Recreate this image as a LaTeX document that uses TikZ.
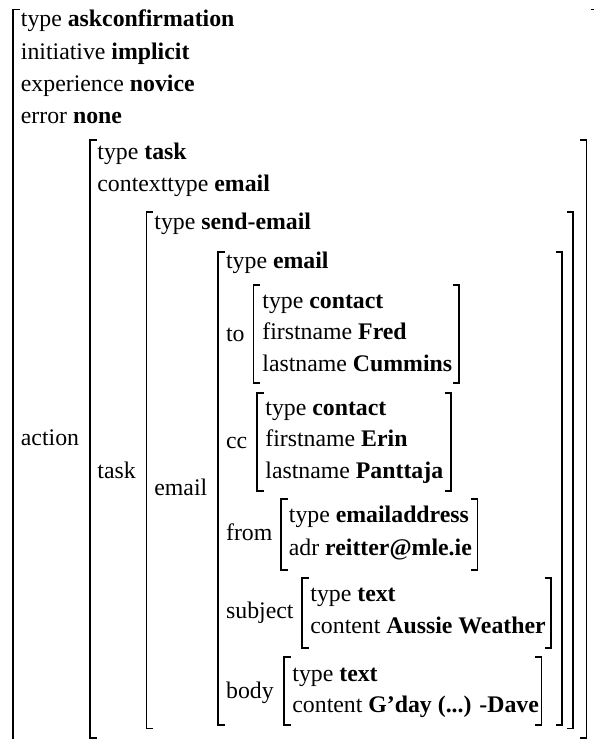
\documentclass[tikz,border=0pt]{standalone}
\usepackage{fontspec}
\setmainfont{Liberation Serif}
\usepackage{tikz}
\tikzset{
  txt/.style={anchor=base west, inner sep=0pt, font=\fontsize{11.9}{14}\selectfont},
  brk/.style={line width=0.8pt, line join=miter}
}
\def\avmBrackets#1#2#3#4{
\draw[brk] (#1+6.5,#2) -- (#1,#2) -- (#1,#4) -- (#1+6.5,#4);
\draw[brk] (#3-6.5,#2) -- (#3,#2) -- (#3,#4) -- (#3-6.5,#4);
}

\begin{document}
\begin{tikzpicture}[x=0.5pt,y=-0.5pt]
  \useasboundingbox (0,0) rectangle (594,739);
  % outer matrix
  \avmBrackets{13}{9.5}{597}{770}
  \node[txt] (ask) at (20.5,26.7) {type \textbf{askconfirmation}};
  \node[txt] (init) at (20.5,59) {initiative \textbf{implicit}};
  \node[txt] (exp) at (20.5,91) {experience \textbf{novice}};
  \node[txt] (err) at (20.5,123) {error \textbf{none}};
  \node[txt] (action) at (20.5,445) {action};
  % action value
  \avmBrackets{90}{140}{586.5}{738}
  \node[txt] (tasktype) at (97,159.3) {type \textbf{task}};
  \node[txt] (ctxtype) at (97,191.7) {contexttype \textbf{email}};
  \node[txt] (task) at (97,478.3) {task};
  % task value
  \avmBrackets{146.5}{212}{573}{728.5}
  \node[txt] (sendtype) at (154,229) {type \textbf{send-email}};
  \node[txt] (email) at (154,495) {email};
  % email value
  \avmBrackets{218}{252}{562}{725}
  \node[txt] (emailtype) at (225.7,268.3) {type \textbf{email}};
  \node[txt] (to) at (225.7,341.7) {to};
  \node[txt] (cc) at (225.7,448.3) {cc};
  \node[txt] (from) at (225.7,540) {from};
  \node[txt] (subject) at (225.7,618.3) {subject};
  \node[txt] (body) at (225.7,698.3) {body};
  % to
  \avmBrackets{253.5}{285}{459}{383}
  \node[txt] (totype) at (262,308.3) {type \textbf{contact}};
  \node[txt] (tofirst) at (262,339.7) {firstname \textbf{Fred}};
  \node[txt] (tolast) at (262,371.7) {lastname \textbf{Cummins}};
  % cc
  \avmBrackets{257}{393}{451}{491}
  \node[txt] (cctype) at (265,415) {type \textbf{contact}};
  \node[txt] (ccfirst) at (265,446.7) {firstname \textbf{Erin}};
  \node[txt] (cclast) at (265,478.3) {lastname \textbf{Panttaja}};
  % from
  \avmBrackets{281}{499}{477.5}{570}
  \node[txt] (fromtype) at (288.5,522.7) {type \textbf{emailaddress}};
  \node[txt] (fromadr) at (288.5,555) {adr \textbf{reitter@mle.ie}};
  % subject
  \avmBrackets{302}{578}{551}{648}
  \node[txt] (subjtype) at (310,601.5) {type \textbf{text}};
  \node[txt] (subjcontent) at (310,633.3) {content \textbf{Aussie Weather}};
  % body
  \avmBrackets{284}{657}{541.5}{725}
  \node[txt] (bodytype) at (292,681.7) {type \textbf{text}};
  \node[txt] (bodycontent) at (292,712.5) {content \textbf{G’day (...) -Dave}};
\end{tikzpicture}
\end{document}
